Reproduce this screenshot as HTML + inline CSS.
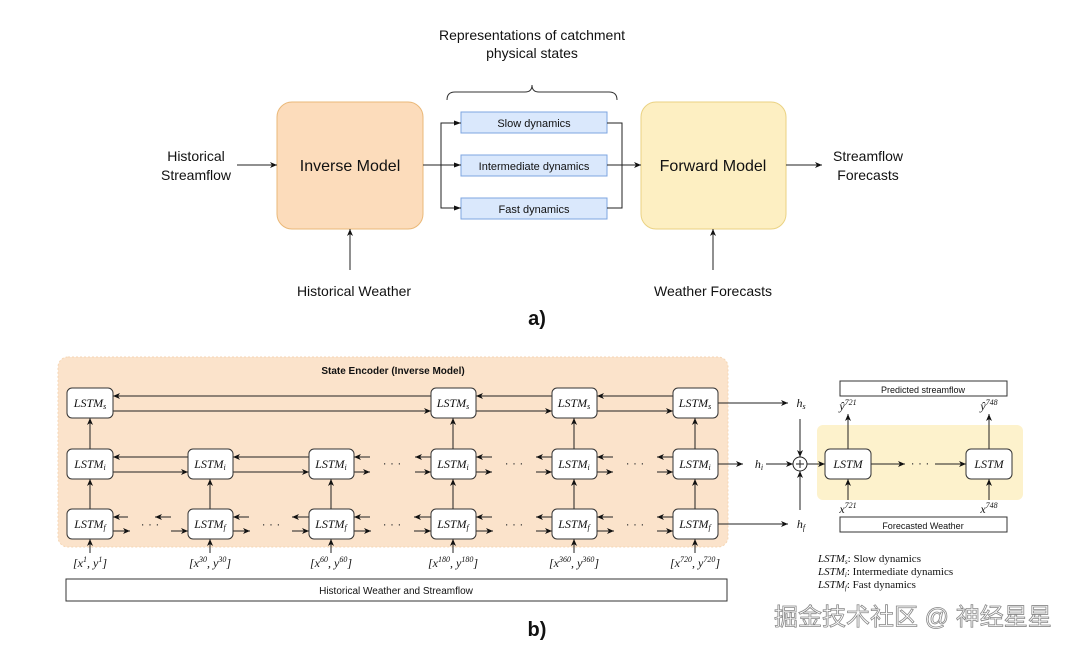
<!DOCTYPE html>
<html><head><meta charset="utf-8"><style>
html,body{margin:0;padding:0;background:#fff}
text{font-family:"Liberation Sans",sans-serif}
.m text, text.m, .m tspan{font-family:"Liberation Serif",serif;font-style:italic}
.lg text{font-family:"Liberation Serif",serif}
</style></head><body>
<svg width="1080" height="650" viewBox="0 0 1080 650" xmlns="http://www.w3.org/2000/svg">
<defs>
<marker id="a" markerWidth="8" markerHeight="8" refX="7" refY="4" orient="auto" markerUnits="userSpaceOnUse"><path d="M0,1 L7,4 L0,7 L2,4 z" fill="#111"/></marker>
<marker id="b" markerWidth="8" markerHeight="8" refX="7" refY="4" orient="auto" markerUnits="userSpaceOnUse"><path d="M0,1.5 L7,4 L0,6.5 z" fill="#111"/></marker>
</defs>
<text x="532" y="40" font-size="14" text-anchor="middle" fill="#111">Representations of catchment</text>
<text x="532" y="58" font-size="14" text-anchor="middle" fill="#111">physical states</text>
<path d="M447,100 Q447,92 455,92 L525,92 Q532,92 532,85 Q532,92 539,92 L609,92 Q617,92 617,100" fill="none" stroke="#333" stroke-width="1"/>
<rect x="277" y="102" width="146" height="127" rx="15" fill="#fcdcbb" stroke="#eab878"/>
<text x="350" y="171" font-size="16" text-anchor="middle" fill="#111">Inverse Model</text>
<rect x="641" y="102" width="145" height="127" rx="15" fill="#fdefc2" stroke="#ead283"/>
<text x="713" y="171" font-size="16" text-anchor="middle" fill="#111">Forward Model</text>
<g fill="#dae8fc" stroke="#7ea6e0">
<rect x="461" y="112" width="146" height="21"/><rect x="461" y="155" width="146" height="21"/><rect x="461" y="198" width="146" height="21"/></g>
<g font-size="11" text-anchor="middle" fill="#111">
<text x="534" y="127">Slow dynamics</text><text x="534" y="170">Intermediate dynamics</text><text x="534" y="213">Fast dynamics</text></g>
<g stroke="#222" fill="none" stroke-width="1">
<path d="M423,165 L461,165" marker-end="url(#b)"/>
<path d="M461,123 L441,123 L441,208 L461,208" /><path d="M441,123 L461,123" marker-end="url(#b)"/><path d="M441,208 L461,208" marker-end="url(#b)"/>
<path d="M607,123 L622,123 L622,208 L607,208"/>
<path d="M607,165 L641,165" marker-end="url(#a)"/>
<path d="M237,165 L277,165" marker-end="url(#a)"/>
<path d="M786,165 L822,165" marker-end="url(#a)"/>
<path d="M350,270 L350,229" marker-end="url(#a)"/>
<path d="M713,270 L713,229" marker-end="url(#a)"/>
</g>
<g font-size="14" text-anchor="middle" fill="#111">
<text x="196" y="161">Historical</text><text x="196" y="180">Streamflow</text>
<text x="868" y="161">Streamflow</text><text x="868" y="180">Forecasts</text>
<text x="354" y="296">Historical Weather</text><text x="713" y="296">Weather Forecasts</text>
</g>
<text x="537" y="325" font-size="20" font-weight="bold" text-anchor="middle" fill="#111">a)</text>

<rect x="58" y="357" width="670" height="190" rx="10" fill="#fbe3cb" stroke="#f5d6b4" stroke-dasharray="2,2"/>
<text x="393" y="374" font-size="10" font-weight="bold" text-anchor="middle" fill="#111">State Encoder (Inverse Model)</text>
<rect x="817" y="425" width="206" height="75" rx="6" fill="#fdf2cc"/>
<g stroke="#222" fill="none" stroke-width="1">
<path d="M431,396 L113,396" marker-end="url(#a)"/><path d="M113,411 L431,411" marker-end="url(#a)"/>
<path d="M552,396 L476,396" marker-end="url(#a)"/><path d="M476,411 L552,411" marker-end="url(#a)"/>
<path d="M673,396 L597,396" marker-end="url(#a)"/><path d="M597,411 L673,411" marker-end="url(#a)"/>
<path d="M188,457 L113,457" marker-end="url(#a)"/><path d="M113,472 L188,472" marker-end="url(#a)"/>
<path d="M309,457 L233,457" marker-end="url(#a)"/><path d="M233,472 L309,472" marker-end="url(#a)"/>
<path d="M370,457 L354,457" marker-end="url(#a)"/><path d="M354,472 L370,472" marker-end="url(#a)"/>
<path d="M431,457 L415,457" marker-end="url(#a)"/><path d="M415,472 L431,472" marker-end="url(#a)"/>
<path d="M492,457 L476,457" marker-end="url(#a)"/><path d="M476,472 L492,472" marker-end="url(#a)"/>
<path d="M552,457 L536,457" marker-end="url(#a)"/><path d="M536,472 L552,472" marker-end="url(#a)"/>
<path d="M613,457 L597,457" marker-end="url(#a)"/><path d="M597,472 L613,472" marker-end="url(#a)"/>
<path d="M673,457 L657,457" marker-end="url(#a)"/><path d="M657,472 L673,472" marker-end="url(#a)"/>
<path d="M718,464 L743,464" marker-end="url(#a)"/>
<path d="M718,403 L788,403" marker-end="url(#a)"/>
<path d="M718,524 L788,524" marker-end="url(#a)"/>
<path d="M128,517 L113,517" marker-end="url(#a)"/><path d="M113,531 L130,531" marker-end="url(#a)"/>
<path d="M171,517 L155,517" marker-end="url(#a)"/><path d="M171,531 L188,531" marker-end="url(#a)"/>
<path d="M249,517 L233,517" marker-end="url(#a)"/><path d="M233,531 L250,531" marker-end="url(#a)"/>
<path d="M309,517 L292,517" marker-end="url(#a)"/><path d="M292,531 L309,531" marker-end="url(#a)"/>
<path d="M370,517 L354,517" marker-end="url(#a)"/><path d="M354,531 L371,531" marker-end="url(#a)"/>
<path d="M431,517 L414,517" marker-end="url(#a)"/><path d="M414,531 L431,531" marker-end="url(#a)"/>
<path d="M492,517 L476,517" marker-end="url(#a)"/><path d="M476,531 L493,531" marker-end="url(#a)"/>
<path d="M552,517 L536,517" marker-end="url(#a)"/><path d="M536,531 L552,531" marker-end="url(#a)"/>
<path d="M613,517 L597,517" marker-end="url(#a)"/><path d="M597,531 L614,531" marker-end="url(#a)"/>
<path d="M673,517 L657,517" marker-end="url(#a)"/><path d="M657,531 L673,531" marker-end="url(#a)"/>
<path d="M90,449 L90,418" marker-end="url(#a)"/><path d="M453,449 L453,418" marker-end="url(#a)"/><path d="M574,449 L574,418" marker-end="url(#a)"/><path d="M695,449 L695,418" marker-end="url(#a)"/>
<path d="M90,509 L90,479" marker-end="url(#a)"/><path d="M210,509 L210,479" marker-end="url(#a)"/><path d="M331,509 L331,479" marker-end="url(#a)"/><path d="M453,509 L453,479" marker-end="url(#a)"/><path d="M574,509 L574,479" marker-end="url(#a)"/><path d="M695,509 L695,479" marker-end="url(#a)"/>
<path d="M90,553 L90,539" marker-end="url(#a)"/><path d="M210,553 L210,539" marker-end="url(#a)"/><path d="M331,553 L331,539" marker-end="url(#a)"/><path d="M453,553 L453,539" marker-end="url(#a)"/><path d="M574,553 L574,539" marker-end="url(#a)"/><path d="M695,553 L695,539" marker-end="url(#a)"/>
<path d="M766,464 L793,464" marker-end="url(#a)"/>
<path d="M800,419 L800,457" marker-end="url(#a)"/><path d="M800,510 L800,471" marker-end="url(#a)"/>
<path d="M807,464 L825,464" marker-end="url(#a)"/>
<path d="M871,464 L905,464" marker-end="url(#a)"/><path d="M935,464 L966,464" marker-end="url(#a)"/>
<path d="M848,449 L848,414" marker-end="url(#a)"/><path d="M989,449 L989,414" marker-end="url(#a)"/>
<path d="M848,500 L848,479" marker-end="url(#a)"/><path d="M989,500 L989,479" marker-end="url(#a)"/>
</g>
<circle cx="800" cy="464" r="7" fill="#fff" stroke="#222"/>
<path d="M796,464 L804,464 M800,460 L800,468" stroke="#222"/>
<g fill="#fff" stroke="#333" stroke-width="1">
<rect x="67" y="388" width="46" height="30" rx="5"/><rect x="431" y="388" width="45" height="30" rx="5"/><rect x="552" y="388" width="45" height="30" rx="5"/><rect x="673" y="388" width="45" height="30" rx="5"/>
<rect x="67" y="449" width="46" height="30" rx="5"/><rect x="188" y="449" width="45" height="30" rx="5"/><rect x="309" y="449" width="45" height="30" rx="5"/><rect x="431" y="449" width="45" height="30" rx="5"/><rect x="552" y="449" width="45" height="30" rx="5"/><rect x="673" y="449" width="45" height="30" rx="5"/>
<rect x="67" y="509" width="46" height="30" rx="5"/><rect x="188" y="509" width="45" height="30" rx="5"/><rect x="309" y="509" width="45" height="30" rx="5"/><rect x="431" y="509" width="45" height="30" rx="5"/><rect x="552" y="509" width="45" height="30" rx="5"/><rect x="673" y="509" width="45" height="30" rx="5"/>
<rect x="825" y="449" width="46" height="30" rx="5"/><rect x="966" y="449" width="46" height="30" rx="5"/>
<rect x="66" y="579" width="661" height="22"/>
<rect x="840" y="381" width="167" height="15"/><rect x="840" y="517" width="167" height="15"/>
</g>
<g class="m" font-size="12" text-anchor="middle" fill="#111">
<text x="90" y="407">LSTM<tspan font-size="8" dy="2">s</tspan></text><text x="453" y="407">LSTM<tspan font-size="8" dy="2">s</tspan></text><text x="574" y="407">LSTM<tspan font-size="8" dy="2">s</tspan></text><text x="695" y="407">LSTM<tspan font-size="8" dy="2">s</tspan></text>
<text x="90" y="468">LSTM<tspan font-size="8" dy="2">i</tspan></text><text x="210" y="468">LSTM<tspan font-size="8" dy="2">i</tspan></text><text x="331" y="468">LSTM<tspan font-size="8" dy="2">i</tspan></text><text x="453" y="468">LSTM<tspan font-size="8" dy="2">i</tspan></text><text x="574" y="468">LSTM<tspan font-size="8" dy="2">i</tspan></text><text x="695" y="468">LSTM<tspan font-size="8" dy="2">i</tspan></text>
<text x="90" y="528">LSTM<tspan font-size="8" dy="2">f</tspan></text><text x="210" y="528">LSTM<tspan font-size="8" dy="2">f</tspan></text><text x="331" y="528">LSTM<tspan font-size="8" dy="2">f</tspan></text><text x="453" y="528">LSTM<tspan font-size="8" dy="2">f</tspan></text><text x="574" y="528">LSTM<tspan font-size="8" dy="2">f</tspan></text><text x="695" y="528">LSTM<tspan font-size="8" dy="2">f</tspan></text>
<text x="848" y="468">LSTM</text><text x="989" y="468">LSTM</text>
<text x="801" y="407">h<tspan font-size="8" dy="2">s</tspan></text><text x="759" y="468">h<tspan font-size="8" dy="2">i</tspan></text><text x="801" y="528">h<tspan font-size="8" dy="2">f</tspan></text>
<text x="848" y="410">ŷ<tspan font-size="8" dy="-5">721</tspan></text><text x="989" y="410">ŷ<tspan font-size="8" dy="-5">748</tspan></text>
<text x="848" y="513">x<tspan font-size="8" dy="-5">721</tspan></text><text x="989" y="513">x<tspan font-size="8" dy="-5">748</tspan></text>
<text x="90" y="567">[x<tspan font-size="8" dy="-5">1</tspan><tspan dy="5">, y</tspan><tspan font-size="8" dy="-5">1</tspan><tspan dy="5">]</tspan></text>
<text x="210" y="567">[x<tspan font-size="8" dy="-5">30</tspan><tspan dy="5">, y</tspan><tspan font-size="8" dy="-5">30</tspan><tspan dy="5">]</tspan></text>
<text x="331" y="567">[x<tspan font-size="8" dy="-5">60</tspan><tspan dy="5">, y</tspan><tspan font-size="8" dy="-5">60</tspan><tspan dy="5">]</tspan></text>
<text x="453" y="567">[x<tspan font-size="8" dy="-5">180</tspan><tspan dy="5">, y</tspan><tspan font-size="8" dy="-5">180</tspan><tspan dy="5">]</tspan></text>
<text x="574" y="567">[x<tspan font-size="8" dy="-5">360</tspan><tspan dy="5">, y</tspan><tspan font-size="8" dy="-5">360</tspan><tspan dy="5">]</tspan></text>
<text x="695" y="567">[x<tspan font-size="8" dy="-5">720</tspan><tspan dy="5">, y</tspan><tspan font-size="8" dy="-5">720</tspan><tspan dy="5">]</tspan></text>
</g>
<g font-size="12" fill="#333" text-anchor="middle">
<text x="392" y="467">· · ·</text><text x="514" y="467">· · ·</text><text x="635" y="467">· · ·</text>
<text x="150" y="528">· · ·</text><text x="271" y="528">· · ·</text><text x="392" y="528">· · ·</text><text x="514" y="528">· · ·</text><text x="635" y="528">· · ·</text>
<text x="920" y="467">· · ·</text>
</g>
<text x="396" y="594" font-size="10" text-anchor="middle" fill="#111">Historical Weather and Streamflow</text>
<text x="923" y="393" font-size="9" text-anchor="middle" fill="#111">Predicted streamflow</text>
<text x="923" y="529" font-size="9" text-anchor="middle" fill="#111">Forecasted Weather</text>
<g class="lg" font-size="11" fill="#111">
<text x="818" y="562"><tspan font-style="italic">LSTM</tspan><tspan font-size="7" font-style="italic" dy="2">s</tspan><tspan dy="-2">: Slow dynamics</tspan></text>
<text x="818" y="575"><tspan font-style="italic">LSTM</tspan><tspan font-size="7" font-style="italic" dy="2">i</tspan><tspan dy="-2">: Intermediate dynamics</tspan></text>
<text x="818" y="588"><tspan font-style="italic">LSTM</tspan><tspan font-size="7" font-style="italic" dy="2">f</tspan><tspan dy="-2">: Fast dynamics</tspan></text>
</g>
<text x="537" y="636" font-size="20" font-weight="bold" text-anchor="middle" fill="#111">b)</text>
<text x="774" y="625" font-size="24" fill="#fff" stroke="#888" stroke-width="0.8" style="font-family:'Liberation Sans','Noto Sans CJK SC',sans-serif">掘金技术社区 @ 神经星星</text>
</svg>
</body></html>
